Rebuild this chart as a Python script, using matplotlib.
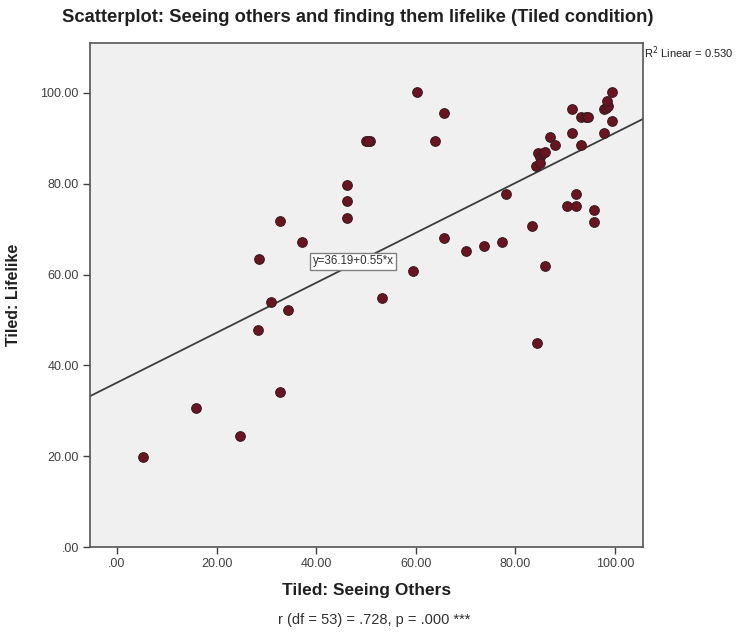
import matplotlib
matplotlib.use("Agg")
import matplotlib.pyplot as plt
import numpy as np

plt.rcParams['font.family'] = ['Liberation Sans', 'DejaVu Sans']

# Data
seeing_others = [5.2, 15.8, 24.8, 28.3, 28.5, 31.0, 32.7, 32.8, 34.3, 37.2,
                 46.1, 46.1, 46.1, 49.9, 50.9, 50.4, 53.2, 59.4, 60.3, 63.9,
                 65.6, 65.7, 70.0, 73.6, 77.2, 78.2, 83.4, 84.2, 84.3, 84.6,
                 85.0, 85.5, 84.9, 86.0, 86.9, 87.9, 90.3, 91.4, 91.4, 92.2,
                 92.2, 93.2, 94.1, 94.5, 93.2, 95.8, 95.8, 97.7, 98.2, 98.5,
                 98.3, 99.3, 99.4, 97.7, 86.0]
lifelike = [19.9, 30.7, 24.5, 47.7, 63.5, 53.9, 34.2, 71.7, 52.1, 67.2,
            79.7, 76.1, 72.5, 89.4, 89.4, 89.4, 54.8, 60.8, 100.1, 89.4,
            95.6, 68.0, 65.3, 66.2, 67.2, 77.8, 70.7, 83.9, 44.9, 86.8,
            85.9, 86.8, 84.5, 61.8, 90.3, 88.5, 75.1, 96.4, 91.2, 77.8,
            75.1, 94.7, 94.7, 94.7, 88.5, 74.3, 71.6, 96.4, 96.6, 97.2,
            98.2, 100.1, 93.9, 91.2, 87.0]

intercept = 36.19
slope = 0.55
x_ticks = [0, 20, 40, 60, 80, 100]
y_ticks = [0, 20, 40, 60, 80, 100]
tick_labels = [".00", "20.00", "40.00", "60.00", "80.00", "100.00"]

title = "Scatterplot: Seeing others and finding them lifelike (Tiled condition)"
x_label = "Tiled: Seeing Others"
y_label = "Tiled: Lifelike"
footer = "r (df = 53) = .728, p = .000 ***"
r2_text = "R$^2$ Linear = 0.530"
eq_text = "y=36.19+0.55*x"

fig = plt.figure(figsize=(7.48, 6.34), dpi=100)
ax = fig.add_axes([90/748, 1 - 547/634, 553/748, 504/634])
ax.set_facecolor("#F0F0F0")

xmin, xmax = -5.4, 105.6
ymin, ymax = 0, 111
ax.set_xlim(xmin, xmax)
ax.set_ylim(ymin, ymax)

# fit line
xl = np.array([xmin, xmax])
ax.plot(xl, intercept + slope * xl, color="#3C3C3C", lw=1.3, zorder=2)

ax.scatter(seeing_others, lifelike, s=48, color="#6A1420",
           edgecolors="#3A1A1E", linewidths=0.8, zorder=3)

ax.text(47.4, 62.9, eq_text, fontsize=8.3, color="#303030", ha="center", va="center",
        zorder=4,
        bbox=dict(boxstyle="square,pad=0.25", facecolor="white",
                  edgecolor="#808080", linewidth=1.0))

ax.set_xticks(x_ticks)
ax.set_xticklabels(tick_labels)
ax.set_yticks(y_ticks)
ax.set_yticklabels(tick_labels)
ax.tick_params(direction="out", length=5, width=1, color="#404040",
               labelsize=9, labelcolor="#404040", pad=3)
for sp in ax.spines.values():
    sp.set_color("#555555")
    sp.set_linewidth(1.2)

ax.set_xlabel(x_label, fontsize=12.5, fontweight="bold", color="#202020", labelpad=9)
ax.set_ylabel(y_label, fontsize=11.5, fontweight="bold", color="#202020", labelpad=14)

fig.text(358/748, 1 - 18/634, title, fontsize=13.2, fontweight="bold",
         ha="center", va="center", color="#202020")
fig.text(644/748, 1 - 53/634, r2_text, fontsize=8, ha="left", va="center",
         color="#202020")
fig.text(374/748, 1 - 620/634, footer, fontsize=10.5, ha="center", va="center",
         color="#303030")

fig.savefig("out.png", dpi=100, facecolor="white")
